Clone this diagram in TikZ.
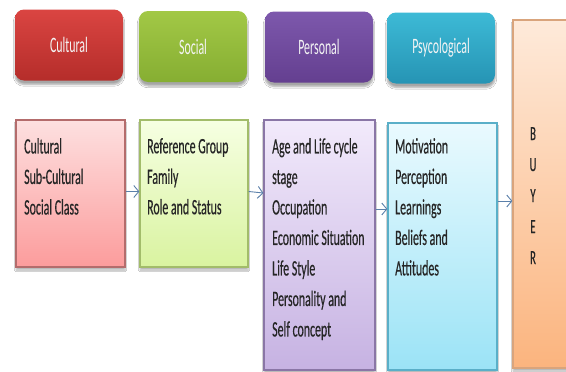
\documentclass[tikz,border=0pt]{standalone}
\usepackage{fontspec}
\newfontfamily\calfont[FakeStretch=0.54,FakeBold=0.4]{Carlito}
\newfontfamily\calhead[FakeStretch=0.54]{Carlito}
\usetikzlibrary{arrows.meta,shadows.blur}
\definecolor{redA}{HTML}{DA4542}
\definecolor{redB}{HTML}{B52D2A}
\definecolor{grnA}{HTML}{A2C846}
\definecolor{grnB}{HTML}{86AE32}
\definecolor{purA}{HTML}{7D58AC}
\definecolor{purB}{HTML}{643F90}
\definecolor{cyaA}{HTML}{3DBAD6}
\definecolor{cyaB}{HTML}{2694B4}
\definecolor{pinkA}{HTML}{FDE0E0}
\definecolor{pinkB}{HTML}{FC9C9C}
\definecolor{pinkD}{HTML}{B46C6C}
\definecolor{limeA}{HTML}{F6FFE2}
\definecolor{limeB}{HTML}{D9F3A0}
\definecolor{limeD}{HTML}{A2BC6A}
\definecolor{lavA}{HTML}{F2EAFB}
\definecolor{lavB}{HTML}{C6B2E2}
\definecolor{lavD}{HTML}{8A76A6}
\definecolor{iceA}{HTML}{EAFAFE}
\definecolor{iceB}{HTML}{9BE3F6}
\definecolor{iceD}{HTML}{5AAFC8}
\definecolor{pchA}{HTML}{FEEADA}
\definecolor{pchB}{HTML}{FBB47E}
\definecolor{pchD}{HTML}{D9A47C}
\definecolor{arrc}{HTML}{5B80AA}
\definecolor{txt}{HTML}{262626}
\definecolor{headtxt}{HTML}{F4F4F4}
\begin{document}
\begin{tikzpicture}[x=1pt,y=-1pt,
  headbox/.style={rounded corners=9pt,minimum width=108pt,minimum height=71pt,
    inner sep=0pt,text=headtxt,font=\calhead\fontsize{22}{24}\selectfont,
    blur shadow={shadow xshift=0pt,shadow yshift=-4pt,shadow opacity=35,shadow blur steps=6}},
  bodybox/.style={draw=#1,line width=1.3pt,inner sep=0pt,
    blur shadow={shadow xshift=0pt,shadow yshift=-3pt,shadow opacity=30,shadow blur steps=6}},
  bodytext/.style={anchor=north west,align=left,inner sep=0pt,text=txt,
    font=\calfont\fontsize{22}{30.5}\selectfont},
  arr/.style={draw=arrc,line width=0.9pt,-{Straight Barb[length=5pt,width=12pt]}}]
\useasboundingbox (0,0) rectangle (566,372);
\clip (0,0) rectangle (566,372);
\fill[white] (0,0) rectangle (566,372);
% header boxes
\node[headbox,top color=redA,bottom color=redB] (cultH) at (69,45) {Cultural};
\node[headbox,top color=grnA,bottom color=grnB] (socH) at (193,46.5) {Social};
\node[headbox,top color=purA,bottom color=purB] (perH) at (319,47) {Personal};
\node[headbox,top color=cyaA,bottom color=cyaB] (psyH) at (441,48) {Psycological};
% body boxes
\node[bodybox=pinkD,top color=pinkA,bottom color=pinkB,minimum width=109pt,minimum height=147pt] (cultB) at (70.5,193.5) {};
\node[bodybox=limeD,top color=limeA,bottom color=limeB,minimum width=108pt,minimum height=147pt] (socB) at (194,193.5) {};
\node[bodybox=lavD,top color=lavA,bottom color=lavB,minimum width=111pt,minimum height=250pt] (perB) at (319.5,245) {};
\node[bodybox=iceD,top color=iceA,bottom color=iceB,minimum width=109pt,minimum height=247pt] (psyB) at (442.5,246.5) {};
\node[bodybox=pchD,top color=pchA,bottom color=pchB,minimum width=70pt,minimum height=348pt] (buyer) at (548,194) {};
% texts
\node[bodytext] (cultT) at (24,138) {Cultural\\Sub-Cultural\\Social Class};
\node[bodytext] (socT) at (147,138) {Reference Group\\Family\\Role and Status};
\node[bodytext] (perT) at (272,138) {Age and Life cycle\\stage\\Occupation\\Economic Situation\\Life Style\\Personality and\\Self concept};
\node[bodytext] (psyT) at (395,138) {Motivation\\Perception\\Learnings\\Beliefs and\\Attitudes};
\node[anchor=north,align=center,inner sep=0pt,text=txt,font=\calfont\fontsize{20}{31}\selectfont] (buyT) at (533,127) {B\\U\\Y\\E\\R};
% arrows
\draw[arr] ([yshift=2pt]cultB.east) -- ([yshift=2pt]socB.west);
\draw[arr] ([yshift=2pt]socB.east) -- ([yshift=52pt]perB.west);
\draw[arr] ([yshift=36pt]perB.east) -- ([yshift=37.5pt]psyB.west);
\draw[arr] ([yshift=45.5pt]psyB.east) -- ([yshift=-7pt]buyer.west);
\end{tikzpicture}
\end{document}
